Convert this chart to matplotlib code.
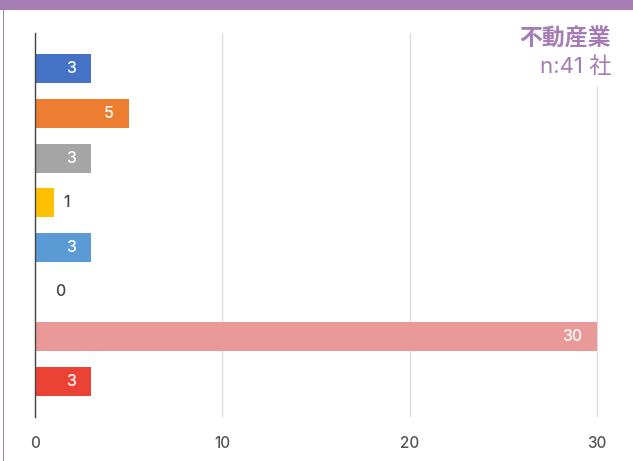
import matplotlib.pyplot as plt
from matplotlib.patches import Rectangle

plt.rcParams['font.family'] = ['Inter', 'Noto Sans CJK JP', 'DejaVu Sans']

values = [3, 5, 3, 1, 3, 0, 30, 3]
colors = ['#4472C4', '#ED7D31', '#A5A5A5', '#FFC000', '#5B9BD5', '#70AD47', '#EA9999', '#EA4335']
ticks = [0, 10, 20, 30]
title = '不動産業'
subtitle = 'n:41 社'
purple = '#A57DB4'

W, H = 633, 461
fig = plt.figure(figsize=(W / 100, H / 100), dpi=100)
ax = fig.add_axes([35 / W, 1 - 417 / H, (598 - 35) / W, (417 - 33) / H])

pos = list(range(len(values)))
ax.barh(pos, values, height=0.65, color=colors, zorder=3)
ax.set_ylim(len(values) - 0.2, -0.8)
ax.set_xlim(0, 30.05)

for p, v in zip(pos, values):
    if v >= 3:
        ax.text(v - 0.8, p, str(v), ha='right', va='center', color='white',
                fontsize=11.5, fontweight='medium', zorder=4)
    else:
        ax.text(v + 0.5 + (0.6 if v == 0 else 0), p, str(v), ha='left', va='center',
                color='#444444', fontsize=11.5, fontweight='medium', zorder=4)

ax.set_xticks(ticks)
ax.set_xticklabels([str(t) for t in ticks], color='#555555', fontsize=11,
                   fontweight='medium')
ax.tick_params(axis='x', length=0, pad=14)
ax.set_yticks([])
ax.grid(axis='x', color='#dddddd', linewidth=1, zorder=0)
for s in ['top', 'right', 'bottom']:
    ax.spines[s].set_visible(False)
ax.spines['left'].set_color('#444444')
ax.spines['left'].set_linewidth(1)
ax.spines['left'].set_zorder(5)

# title block with white background over the grid
fig.add_artist(Rectangle((515 / W, 1 - 86 / H), 100 / W, 56 / H, transform=fig.transFigure,
                         facecolor='white', edgecolor='none', zorder=2))
fig.text(611 / W, 1 - 40 / H, title, ha='right', va='center', color=purple,
         fontsize=16.5, fontweight='bold', zorder=3)
fig.text(611 / W, 1 - 67 / H, subtitle, ha='right', va='center', color=purple,
         fontsize=16, fontweight='normal', zorder=3)

# frame decorations
fig.add_artist(Rectangle((0, 1 - 10 / H), 1, 10 / H, transform=fig.transFigure,
                         facecolor=purple, edgecolor='none'))
fig.add_artist(Rectangle((3 / W, 0), 1.2 / W, 1, transform=fig.transFigure,
                         facecolor=purple, edgecolor='none'))

fig.savefig('out.png', dpi=100)
